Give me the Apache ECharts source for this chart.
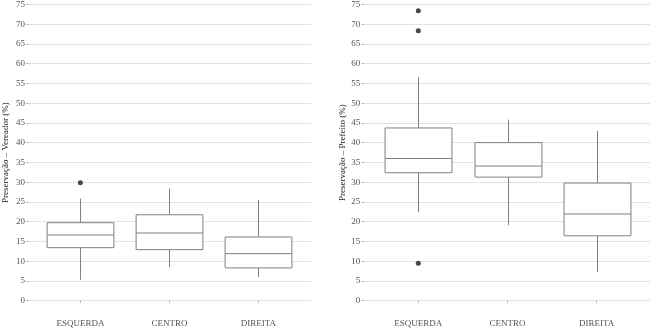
<!DOCTYPE html>
<html lang="pt" style="height: 100%">
<head>
    <meta charset="UTF-8">
    <title>Preservação – Vereador / Prefeito</title>
    <script src="https://cdn.jsdelivr.net/npm/echarts@6/dist/echarts.min.js"></script>
</head>
<body style="height: 100%; margin: 0; background: #fff">
    <div id="main" style="width: 650px; height: 328px"></div>
    <script>
        // categorias e marcas do eixo
        var categorias = ['ESQUERDA', 'CENTRO', 'DIREITA'];
        var yTicks = [0, 75, 5]; // min, max, intervalo

        // [min, Q1, mediana, Q3, max]
        var vereadorBox = [
            [5.1, 13.2, 16.4, 19.5, 25.6],
            [8.3, 12.7, 16.9, 21.5, 28.1],
            [5.8, 8.1, 11.7, 15.9, 25.3]
        ];
        var vereadorOut = [['ESQUERDA', 29.6]];

        var prefeitoBox = [
            [22.1, 32.1, 35.7, 43.4, 56.2],
            [18.9, 31.0, 33.8, 39.7, 45.5],
            [7.0, 16.2, 21.7, 29.5, 42.7]
        ];
        var prefeitoOut = [['ESQUERDA', 73.0], ['ESQUERDA', 67.9], ['ESQUERDA', 9.3]];

        var fonte = 'Liberation Serif';
        var corTexto = '#555';
        var corCaixa = '#808080';

        // eixo y com grade e rótulos
        function eixoGrade(gi, nome, gap) {
            return {
                type: 'value', gridIndex: gi,
                min: yTicks[0], max: yTicks[1], interval: yTicks[2],
                name: nome, nameLocation: 'middle', nameRotate: 90, nameGap: gap,
                nameTextStyle: { fontFamily: fonte, fontSize: 9, color: '#222' },
                axisLine: { show: false },
                axisTick: { show: true, length: 3, lineStyle: { color: '#bdbdbd' } },
                axisLabel: { fontFamily: fonte, fontSize: 9, color: corTexto, margin: 4 },
                splitLine: { show: true, lineStyle: { color: '#e3e3e3', width: 1 } }
            };
        }
        // eixo y invisível para as caixas
        function eixoCaixa(gi) {
            return {
                type: 'value', gridIndex: gi,
                min: yTicks[0], max: yTicks[1], interval: yTicks[2],
                show: false, splitLine: { show: false }
            };
        }
        function eixoCat(gi) {
            return {
                type: 'category', gridIndex: gi, data: categorias, offset: 15,
                axisLine: { show: false },
                axisTick: { show: true, alignWithLabel: true, length: 3, lineStyle: { color: '#bdbdbd' } },
                axisLabel: { fontFamily: fonte, fontSize: 9, color: corTexto, margin: 4 },
                splitLine: { show: false }
            };
        }

        var grids = [
            { left: 27, right: 338.5, top: 2.7, bottom: 27.3 },
            { left: 35.9, right: 347.1, top: 2.7, bottom: 27.3 },
            { left: 364.3, right: 0, top: 2.7, bottom: 27.3 },
            { left: 373.7, right: 8.7, top: 2.7, bottom: 27.3 }
        ];

        var xAxes = [
            { type: 'value', gridIndex: 0, show: false },
            eixoCat(1),
            { type: 'value', gridIndex: 2, show: false },
            eixoCat(3)
        ];

        var yAxes = [
            eixoGrade(0, 'Preservação – Vereador (%)', 19),
            eixoCaixa(1),
            eixoGrade(2, 'Preservação – Prefeito (%)', 17),
            eixoCaixa(3)
        ];

        // caixa estilo ggplot (sem travessões nas pontas)
        function renderCaixa(params, api) {
            var i = api.value(0);
            var pMin = api.coord([i, api.value(1)]);
            var pQ1 = api.coord([i, api.value(2)]);
            var pMed = api.coord([i, api.value(3)]);
            var pQ3 = api.coord([i, api.value(4)]);
            var pMax = api.coord([i, api.value(5)]);
            var w = api.size([1, 0])[0] * 0.75;
            var x = Math.round(pMed[0]) + 0.5;
            var x0 = x - w / 2, x1 = x + w / 2;
            var estilo = { stroke: corCaixa, lineWidth: 1, fill: null };
            return {
                type: 'group',
                children: [
                    { type: 'line', shape: { x1: x, y1: pMax[1], x2: x, y2: pQ3[1] }, style: estilo },
                    { type: 'line', shape: { x1: x, y1: pQ1[1], x2: x, y2: pMin[1] }, style: estilo },
                    { type: 'rect', shape: { x: x0, y: pQ3[1], width: w, height: pQ1[1] - pQ3[1] },
                      style: { stroke: corCaixa, lineWidth: 1, fill: '#fff' } },
                    { type: 'line', shape: { x1: x0, y1: pMed[1], x2: x1, y2: pMed[1] }, style: estilo }
                ]
            };
        }

        function caixa(gi, dados) {
            return {
                type: 'custom', xAxisIndex: gi, yAxisIndex: gi,
                renderItem: renderCaixa,
                encode: { x: 0, y: [1, 2, 3, 4, 5] },
                data: dados.map(function (d, i) { return [i].concat(d); }),
                silent: true
            };
        }
        function pontos(gi, dados) {
            return {
                type: 'scatter', xAxisIndex: gi, yAxisIndex: gi,
                data: dados, symbolSize: 5,
                itemStyle: { color: '#1a1a1a' }, silent: true, z: 5
            };
        }

        var myChart = echarts.init(document.getElementById('main'));
        var option = {
            animation: false,
            backgroundColor: '#fff',
            grid: grids,
            xAxis: xAxes,
            yAxis: yAxes,
            series: [
                caixa(1, vereadorBox),
                pontos(1, vereadorOut),
                caixa(3, prefeitoBox),
                pontos(3, prefeitoOut)
            ]
        };
        myChart.setOption(option);
        window.addEventListener('resize', myChart.resize);
    </script>
</body>
</html>
